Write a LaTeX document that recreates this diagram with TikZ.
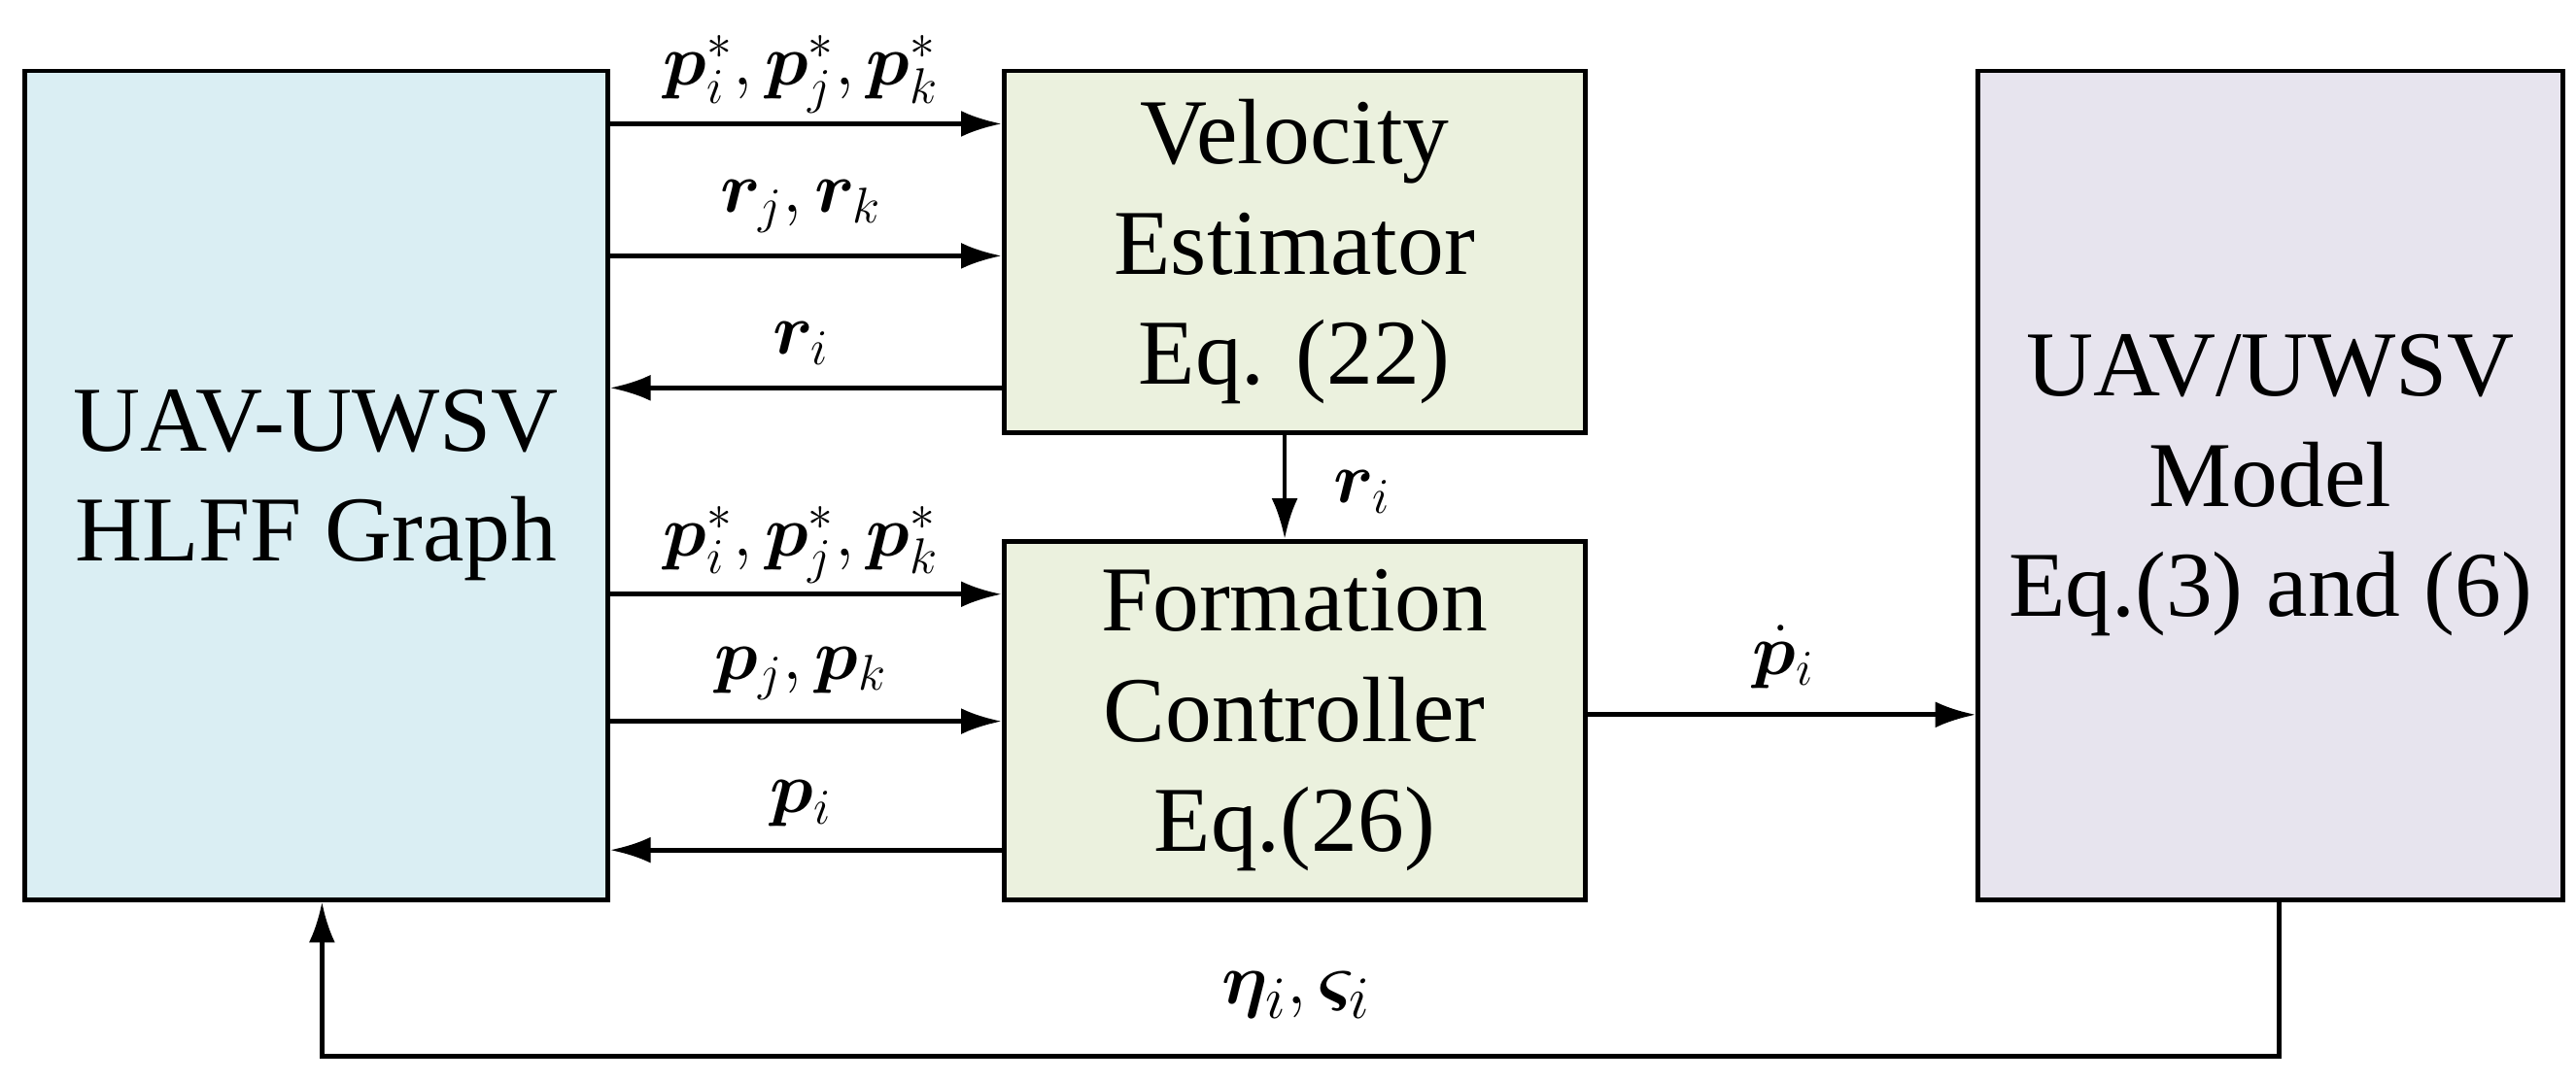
\documentclass[tikz,border=0pt]{standalone}
\usepackage{fontspec}
\usepackage{bm}
\setmainfont{Liberation Serif}
\usetikzlibrary{arrows.meta}
\definecolor{lblue}{HTML}{DAEEF3}
\definecolor{lgreen}{HTML}{EBF1DE}
\definecolor{lpurp}{HTML}{E7E4EE}
\begin{document}
\begin{tikzpicture}[x=0.02cm,y=-0.02cm,
  box/.style={draw,line width=1.6pt,align=center,font=\fontsize{32}{38}\selectfont,inner sep=0},
  ar/.style={line width=1.6pt,-{Latex[length=14pt,width=9pt]}},
  lab/.style={font=\fontsize{25}{30}\selectfont}]
\useasboundingbox (0,0) rectangle (1560,655);
\node[box,fill=lblue,minimum width=353*0.02cm,minimum height=502*0.02cm] (G) at (191.5,294) {UAV-UWSV\\HLFF Graph};
\node[box,fill=lgreen,minimum width=352*0.02cm,minimum height=219*0.02cm] (V) at (784,152.5) {Velocity\\Estimator\\Eq. (22)};
\node[box,fill=lgreen,minimum width=352*0.02cm,minimum height=217*0.02cm] (F) at (784,436.5) {Formation\\Controller\\Eq.(26)};
\node[box,fill=lpurp,minimum width=354*0.02cm,minimum height=502*0.02cm] (M) at (1375,294) {UAV/UWSV\\Model\\Eq.(3) and (6)};
\coordinate (a1) at (368,75); \coordinate (a2) at (368,155); \coordinate (a3) at (608,235);
\coordinate (b1) at (368,360); \coordinate (b2) at (368,437); \coordinate (b3) at (608,515);
\draw[ar] (a1) -- (a1 -| V.west);
\draw[ar] (a2) -- (a2 -| V.west);
\draw[ar] (a3) -- (a3 -| G.east);
\draw[ar] (b1) -- (b1 -| F.west);
\draw[ar] (b2) -- (b2 -| F.west);
\draw[ar] (b3) -- (b3 -| G.east);
\draw[ar] (V.south -| 778,0) -- (F.north -| 778,0);
\draw[ar] (F.east |- 0,433) -- (M.west |- 0,433);
\coordinate (c1) at (1380,640); \coordinate (c2) at (195,640);
\draw[ar] (M.south -| c1) -- (c1) -- (c2) -- (G.south -| c2);
\node[lab] (l1) at (485,45) {$\bm{p}_i^*,\bm{p}_j^*,\bm{p}_k^*$};
\node[lab] (l2) at (485,125) {$\bm{r}_j,\bm{r}_k$};
\node[lab] (l3) at (485,208) {$\bm{r}_i$};
\node[lab] (l4) at (485,330) {$\bm{p}_i^*,\bm{p}_j^*,\bm{p}_k^*$};
\node[lab] (l5) at (485,408) {$\bm{p}_j,\bm{p}_k$};
\node[lab] (l6) at (485,487) {$\bm{p}_i$};
\node[lab] (l7) at (825,298) {$\bm{r}_i$};
\node[lab] (l8) at (1080,398) {$\dot{\bm{p}}_i$};
\node[lab,font=\fontsize{30}{34}\selectfont] (l9) at (785,603) {$\bm{\eta}_i,\bm{\varsigma}_i$};
\end{tikzpicture}
\end{document}
